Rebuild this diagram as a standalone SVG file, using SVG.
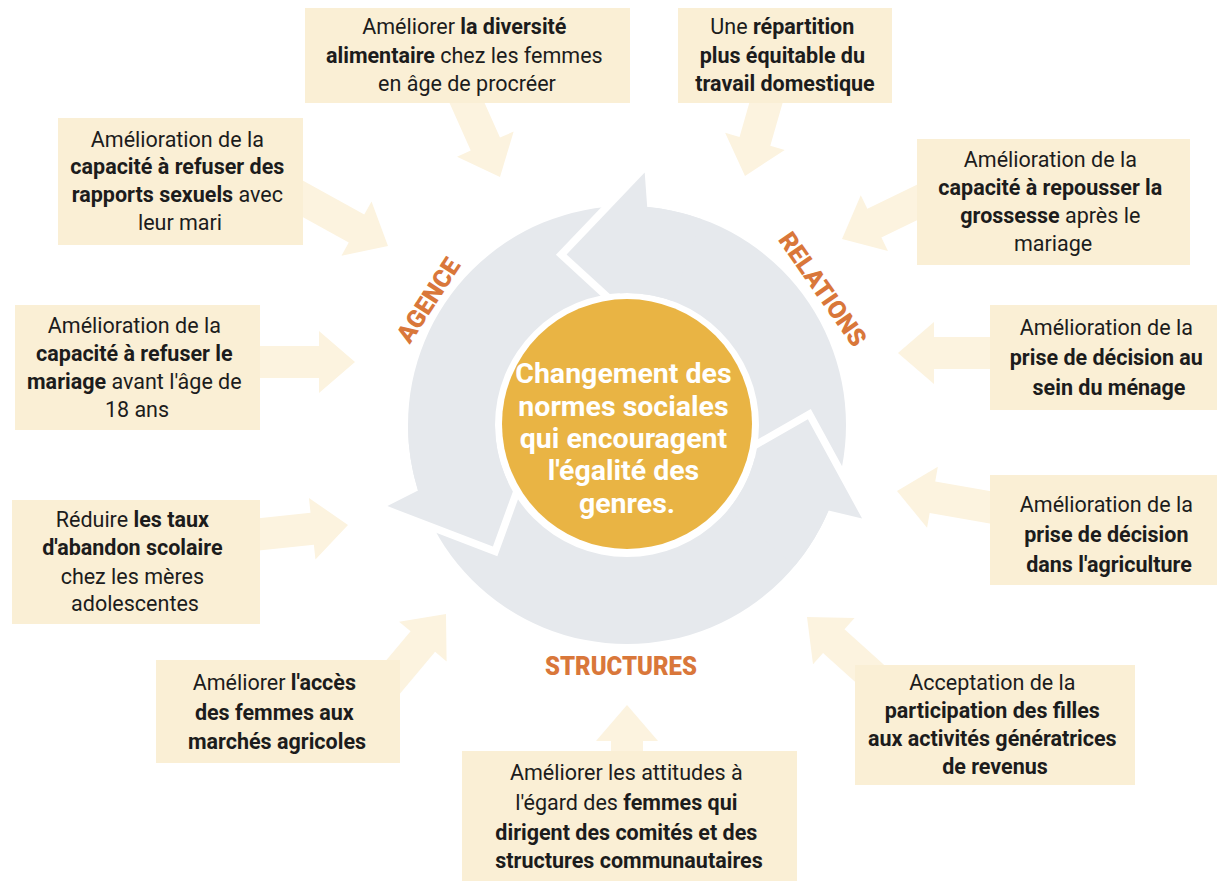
<svg xmlns="http://www.w3.org/2000/svg" xmlns:xlink="http://www.w3.org/1999/xlink" width="1217" height="881" viewBox="0 0 1217 881">
<defs>
<style>
.box{fill:#faefd5;}
.arr{fill:#fcf3df;}
.t{font-family:Roboto,"Liberation Sans",sans-serif;font-size:21.5px;fill:#1c1c1c;text-anchor:middle;}
.b{font-weight:700;}
.lbl{font-family:Roboto,"Liberation Sans",sans-serif;font-size:25px;font-weight:900;fill:#d9773a;text-anchor:middle;}
.ctr{font-family:Roboto,"Liberation Sans",sans-serif;font-size:28.5px;font-weight:700;fill:#ffffff;text-anchor:middle;}
.ring{fill:#e6e9ed;}
.gap{fill:none;stroke:#ffffff;stroke-width:15;stroke-linejoin:miter;stroke-miterlimit:10;}
</style>
<path id="arrow" d="M0 0 L-36 -31 L-36 -16 L-110 -16 L-110 16 L-36 16 L-36 31 Z"/>
</defs>
<rect width="1217" height="881" fill="#ffffff"/>

<g id="connectors" class="arr">
<use xlink:href="#arrow" transform="translate(500 177) rotate(66)"/>
<use xlink:href="#arrow" transform="translate(745 176) rotate(106)"/>
<use xlink:href="#arrow" transform="translate(388 246) rotate(29)"/>
<use xlink:href="#arrow" transform="translate(842 239) rotate(154)"/>
<use xlink:href="#arrow" transform="translate(355 362) rotate(0)"/>
<use xlink:href="#arrow" transform="translate(898 353) rotate(180)"/>
<use xlink:href="#arrow" transform="translate(348 525) rotate(-6)"/>
<use xlink:href="#arrow" transform="translate(897 491) rotate(190)"/>
<use xlink:href="#arrow" transform="translate(446 614) rotate(-50)"/>
<use xlink:href="#arrow" transform="translate(627 705) rotate(-90)"/>
<use xlink:href="#arrow" transform="translate(807 617) rotate(-138)"/>
</g>

<g id="cycle">
<path class="ring" fill-rule="evenodd" d="M408 425 A219 219 0 1 0 846 425 A219 219 0 1 0 408 425 Z M495 425 A132 132 0 1 0 759 425 A132 132 0 1 0 495 425 Z"/>
<polyline class="gap" points="644.7,172.6 566.6,254.4 618.6,302.2"/>
<path class="ring" d="M644.7 172.6 L566.6 254.4 L609.8 294.1 A132 132 0 0 1 672.1 301.0 L701.9 219.2 A219 219 0 0 0 647.2 206.9 Z"/>
<polyline class="gap" points="862.1,518.5 807.9,419.3 746.5,454.4"/>
<path class="ring" d="M862.1 518.5 L807.9 419.3 L756.9 448.4 A132 132 0 0 1 728.1 509.9 L794.8 565.8 A219 219 0 0 0 828.6 510.6 Z"/>
<polyline class="gap" points="387.4,506.1 492.9,546.6 517,480.1"/>
<path class="ring" d="M387.4 506.1 L492.9 546.6 L512.9 491.4 A132 132 0 0 1 495 425 L408 425 A219 219 0 0 0 418.0 490.5 Z"/>
<text class="lbl" transform="translate(428 300) rotate(-57)" y="9" textLength="95" lengthAdjust="spacingAndGlyphs">AGENCE</text>
<text class="lbl" transform="translate(823 289) rotate(55)" y="9" textLength="133" lengthAdjust="spacingAndGlyphs">RELATIONS</text>
<text class="lbl" x="621" y="675" textLength="152" lengthAdjust="spacingAndGlyphs">STRUCTURES</text>
</g>

<g id="center">
<circle cx="627" cy="424" r="125" fill="#e9b444"/>
<text class="ctr">
<tspan x="627" y="383">Changement des</tspan>
<tspan x="627" y="416">normes sociales</tspan>
<tspan x="627" y="448">qui encouragent</tspan>
<tspan x="627" y="480">l'égalité des</tspan>
<tspan x="627" y="513">genres.</tspan>
</text>
</g>

<g id="n-diversite">
<rect class="box" x="305" y="8" width="325" height="95"/>
<text class="t">
<tspan x="467" y="34">Améliorer <tspan class="b">la diversité</tspan></tspan>
<tspan x="467" y="63"><tspan class="b">alimentaire</tspan> chez les femmes</tspan>
<tspan x="467" y="91">en âge de procréer</tspan>
</text>
</g>

<g id="n-repartition">
<rect class="box" x="678" y="8" width="214" height="95"/>
<text class="t">
<tspan x="785" y="34">Une <tspan class="b">répartition</tspan></tspan>
<tspan x="785" y="63" class="b">plus équitable du</tspan>
<tspan x="785" y="91" class="b">travail domestique</tspan>
</text>
</g>

<g id="n-rapports">
<rect class="box" x="58" y="118" width="245" height="127"/>
<text class="t">
<tspan x="180" y="147">Amélioration de la</tspan>
<tspan x="180" y="174" class="b">capacité à refuser des</tspan>
<tspan x="180" y="202"><tspan class="b">rapports sexuels</tspan> avec</tspan>
<tspan x="180" y="230">leur mari</tspan>
</text>
</g>

<g id="n-grossesse">
<rect class="box" x="917" y="139" width="273" height="126"/>
<text class="t">
<tspan x="1053" y="167">Amélioration de la</tspan>
<tspan x="1053" y="195" class="b">capacité à repousser la</tspan>
<tspan x="1053" y="223"><tspan class="b">grossesse</tspan> après le</tspan>
<tspan x="1053" y="251">mariage</tspan>
</text>
</g>

<g id="n-mariage">
<rect class="box" x="15" y="305" width="245" height="125"/>
<text class="t">
<tspan x="137" y="333">Amélioration de la</tspan>
<tspan x="137" y="361" class="b">capacité à refuser le</tspan>
<tspan x="137" y="389"><tspan class="b">mariage</tspan> avant l'âge de</tspan>
<tspan x="137" y="417">18 ans</tspan>
</text>
</g>

<g id="n-menage">
<rect class="box" x="990" y="305" width="227" height="105"/>
<text class="t">
<tspan x="1109" y="335">Amélioration de la</tspan>
<tspan x="1109" y="365" class="b">prise de décision au</tspan>
<tspan x="1109" y="395" class="b">sein du ménage</tspan>
</text>
</g>

<g id="n-scolaire">
<rect class="box" x="12" y="500" width="248" height="124"/>
<text class="t">
<tspan x="135" y="527">Réduire <tspan class="b">les taux</tspan></tspan>
<tspan x="135" y="555" class="b">d'abandon scolaire</tspan>
<tspan x="135" y="584">chez les mères</tspan>
<tspan x="135" y="611">adolescentes</tspan>
</text>
</g>

<g id="n-agriculture">
<rect class="box" x="990" y="475" width="227" height="110"/>
<text class="t">
<tspan x="1109" y="512">Amélioration de la</tspan>
<tspan x="1109" y="542" class="b">prise de décision</tspan>
<tspan x="1109" y="572" class="b">dans l'agriculture</tspan>
</text>
</g>

<g id="n-marches">
<rect class="box" x="156" y="660" width="244" height="103"/>
<text class="t">
<tspan x="277" y="690">Améliorer <tspan class="b">l'accès</tspan></tspan>
<tspan x="277" y="720" class="b">des femmes aux</tspan>
<tspan x="277" y="749" class="b">marchés agricoles</tspan>
</text>
</g>

<g id="n-revenus">
<rect class="box" x="855" y="665" width="280" height="120"/>
<text class="t">
<tspan x="995" y="690">Acceptation de la</tspan>
<tspan x="995" y="718" class="b">participation des filles</tspan>
<tspan x="995" y="746" class="b">aux activités génératrices</tspan>
<tspan x="995" y="774" class="b">de revenus</tspan>
</text>
</g>

<g id="n-comites">
<rect class="box" x="462" y="751" width="335" height="130"/>
<text class="t">
<tspan x="629" y="780">Améliorer les attitudes à</tspan>
<tspan x="629" y="810">l'égard des <tspan class="b">femmes qui</tspan></tspan>
<tspan x="629" y="840" class="b">dirigent des comités et des</tspan>
<tspan x="629" y="868" class="b">structures communautaires</tspan>
</text>
</g>
</svg>
